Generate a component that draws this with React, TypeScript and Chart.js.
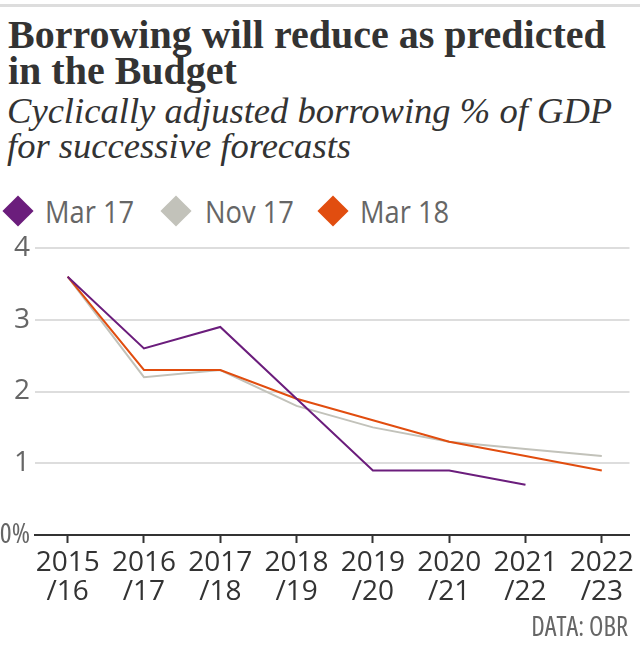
import React, { useEffect, useRef } from "react";
import { Chart, registerables } from "chart.js";

Chart.register(...registerables);

const categories: string[][] = [
  ["2015", "/16"],
  ["2016", "/17"],
  ["2017", "/18"],
  ["2018", "/19"],
  ["2019", "/20"],
  ["2020", "/21"],
  ["2021", "/22"],
  ["2022", "/23"],
];

const mar17: (number | null)[] = [3.6, 2.6, 2.9, 1.9, 0.9, 0.9, 0.7, null];
const nov17: number[] = [3.6, 2.2, 2.3, 1.8, 1.5, 1.3, 1.2, 1.1];
const mar18: number[] = [3.6, 2.3, 2.3, 1.9, 1.6, 1.3, 1.1, 0.9];

const yTicks: number[] = [0, 1, 2, 3, 4];

const seriesNames = ["Mar 17", "Nov 17", "Mar 18"];
const seriesColors = ["#6b1d7c", "#c2c2ba", "#e14d0f"];
const legendDiamondX = [2, 160, 317];
const legendTextX = [45, 205, 360];

const SANS = '"Open Sans", "Liberation Sans", sans-serif';
const SERIF = '"Liberation Serif", "DejaVu Serif", serif';

export default function App() {
  const canvasRef = useRef<HTMLCanvasElement | null>(null);

  useEffect(() => {
    if (!canvasRef.current) return;
    const toPts = (arr: (number | null)[]) =>
      arr.map((v, i) => ({ x: i, y: v }));
    const chart = new Chart(canvasRef.current, {
      type: "line",
      data: {
        datasets: [
          {
            label: seriesNames[0],
            data: toPts(mar17) as any,
            borderColor: seriesColors[0],
            backgroundColor: seriesColors[0],
            borderWidth: 2,
            pointRadius: 0,
            order: 0,
          },
          {
            label: seriesNames[1],
            data: toPts(nov17) as any,
            borderColor: seriesColors[1],
            backgroundColor: seriesColors[1],
            borderWidth: 2,
            pointRadius: 0,
            order: 2,
          },
          {
            label: seriesNames[2],
            data: toPts(mar18) as any,
            borderColor: seriesColors[2],
            backgroundColor: seriesColors[2],
            borderWidth: 2,
            pointRadius: 0,
            order: 1,
          },
        ],
      },
      options: {
        animation: false,
        responsive: false,
        spanGaps: false,
        layout: { padding: { top: 18, right: 4, bottom: 0, left: 0 } },
        plugins: {
          legend: { display: false },
          tooltip: { enabled: false },
          title: { display: false },
        },
        scales: {
          x: {
            type: "linear",
            min: -0.428,
            max: 7.363,
            afterBuildTicks: (scale: any) => {
              scale.ticks = categories.map((_, i) => ({ value: i }));
            },
            afterFit: (scale: any) => {
              scale.height = 85;
            },
            ticks: {
              autoSkip: false,
              maxRotation: 0,
              minRotation: 0,
              padding: 6,
              color: "#333333",
              font: {
                family: SANS,
                size: 28,
                weight: "normal",
                lineHeight: 1.02,
              },
              callback: (v: any) => categories[Math.round(Number(v))] ?? "",
            },
            grid: {
              drawOnChartArea: false,
              drawTicks: true,
              tickLength: 8,
              tickColor: "#333333",
              tickWidth: 2,
            },
            border: { display: true, color: "#333333", width: 2 },
          },
          y: {
            min: 0,
            max: 4,
            afterBuildTicks: (scale: any) => {
              scale.ticks = yTicks.map((v) => ({ value: v }));
            },
            afterFit: (scale: any) => {
              scale.width = 35;
            },
            ticks: {
              padding: 5,
              color: "#666666",
              font: (ctx: any) =>
                ctx.tick && ctx.tick.value === 0
                  ? { family: SANS, size: 28, weight: "normal condensed", lineHeight: 0.8 }
                  : { family: SANS, size: 28, weight: "normal", lineHeight: 0.8 },
              callback: (v: any) => (Number(v) === 0 ? "0%" : String(v)),
            },
            grid: {
              drawTicks: false,
              color: (ctx: any) =>
                ctx.tick && ctx.tick.value === 0 ? "rgba(0,0,0,0)" : "#dddddd",
              lineWidth: 2,
            },
            border: { display: false },
          },
        },
      },
    });
    return () => chart.destroy();
  }, []);

  return (
    <div
      style={{
        position: "absolute",
        left: 0,
        top: 0,
        width: 640,
        height: 651,
        background: "#ffffff",
        overflow: "hidden",
      }}
    >
      <div
        style={{
          position: "absolute",
          left: 0,
          top: 4,
          width: 640,
          height: 3,
          background: "#dddddd",
        }}
      />
      <div
        style={{
          position: "absolute",
          left: 8,
          top: 17,
          width: 632,
          fontFamily: SERIF,
          fontWeight: "bold",
          fontSize: 40,
          lineHeight: "36px",
          color: "#333333",
          whiteSpace: "nowrap",
        }}
      >
        Borrowing will reduce as predicted
        <br />
        in the Budget
      </div>
      <div
        style={{
          position: "absolute",
          left: 7,
          top: 93,
          width: 633,
          fontFamily: SERIF,
          fontStyle: "italic",
          fontSize: 36.6,
          lineHeight: "35px",
          color: "#333333",
          whiteSpace: "nowrap",
        }}
      >
        Cyclically adjusted borrowing % of GDP
        <br />
        for successive forecasts
      </div>
      {seriesNames.map((name, i) => (
        <React.Fragment key={name}>
          <div
            style={{
              position: "absolute",
              left: legendDiamondX[i] + 4.5,
              top: 199.5,
              width: 22,
              height: 22,
              background: seriesColors[i],
              transform: "rotate(45deg)",
            }}
          />
          <div
            style={{
              position: "absolute",
              left: legendTextX[i],
              top: 194,
              fontFamily: SANS,
              fontSize: 31,
              lineHeight: "34px",
              color: "#666666",
              whiteSpace: "nowrap",
              transform: "scaleX(0.88)",
              transformOrigin: "left center",
            }}
          >
            {name}
          </div>
        </React.Fragment>
      ))}
      <canvas
        ref={canvasRef}
        width={640}
        height={390}
        style={{ position: "absolute", left: 0, top: 230, width: 640, height: 390 }}
      />
      <div
        style={{
          position: "absolute",
          right: 12,
          top: 611,
          fontFamily: SANS,
          fontStretch: "condensed",
          fontSize: 26.5,
          lineHeight: "30px",
          color: "#666666",
          whiteSpace: "nowrap",
        }}
      >
        DATA: OBR
      </div>
    </div>
  );
}
